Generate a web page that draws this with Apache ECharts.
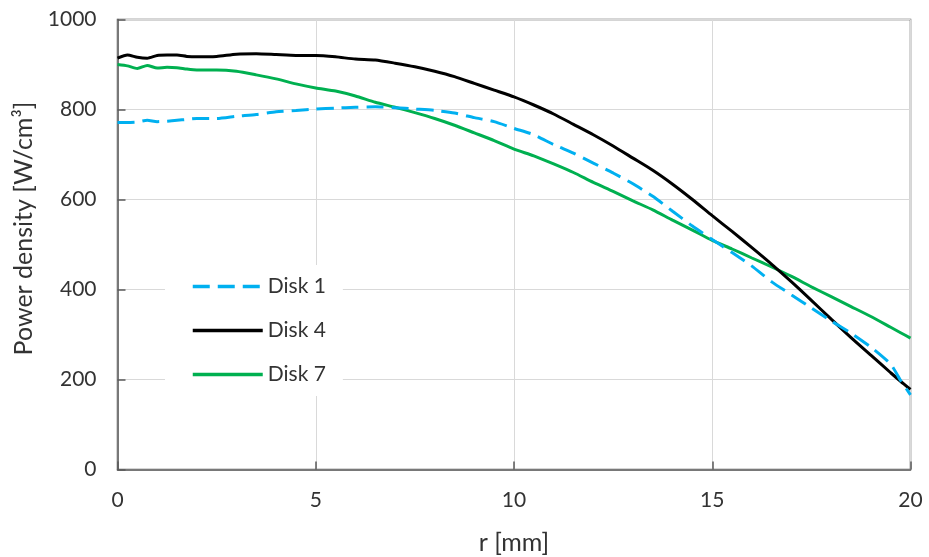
<!DOCTYPE html>
<html>
<head>
<meta charset="utf-8">
<script src="https://cdn.jsdelivr.net/npm/echarts@6/dist/echarts.min.js"></script>
<style>
  html, body { margin: 0; padding: 0; background: #ffffff; }
  #chart { width: 929px; height: 557px; }
</style>
</head>
<body>
<div id="chart"></div>
<script>
// Radial position r [mm]
const radius = [
  0, 0.25, 0.5, 0.75, 1, 1.25, 1.5, 1.75, 2,
  2.5, 3, 3.5, 4, 4.5, 5, 5.5, 6, 6.5, 7, 7.5, 8, 8.5, 9, 9.5,
  10, 10.5, 11, 11.5, 12, 12.5, 13, 13.5, 14, 14.5, 15, 15.5, 16, 16.5,
  17, 17.5, 18, 18.5, 19, 19.5, 19.75, 20
];

// Power density [W/cm³] per disk
const disk1 = [
  771, 771, 772, 776, 773, 774, 776, 778, 780,
  780, 785, 789, 795, 798, 801, 803, 805, 806, 804, 801, 798, 792, 782, 773,
  758, 744, 722, 703, 681, 659, 635, 607, 574, 541, 511, 482, 452, 417,
  388, 359, 330, 303, 272, 234, 198, 166
];
const disk4 = [
  914, 921, 916, 914, 920, 921, 921, 918, 917,
  918, 923, 924, 922, 920, 920, 917, 912, 910, 903, 895, 885, 873, 858, 843,
  828, 810, 790, 767, 744, 719, 692, 665, 634, 600, 564, 529, 493, 456,
  417, 376, 334, 293, 254, 215, 196, 178
];
const disk7 = [
  900, 897, 891, 898, 892, 894, 893, 890, 888,
  888, 885, 877, 868, 857, 848, 841, 830, 816, 805, 793, 780, 765, 748, 731,
  712, 697, 679, 660, 638, 618, 597, 577, 554, 532, 509, 490, 470, 450,
  429, 406, 384, 362, 340, 316, 304, 292
];

const xTicks = { min: 0, max: 20, interval: 5 };
const yTicks = { min: 0, max: 1000, interval: 200 };

const seriesNames = ['Disk 1', 'Disk 4', 'Disk 7'];
const seriesValues = [disk1, disk4, disk7];
const seriesColors = ['#00b0f0', '#000000', '#00b050'];
const seriesDash = [[17, 8], 'solid', 'solid'];

const FONT = 'Lato, "Open Sans", sans-serif';
const TEXT = '#333333';
const FRAME = '#595959';

const chart = echarts.init(document.getElementById('chart'), null, { renderer: 'canvas' });

chart.setOption({
  backgroundColor: '#ffffff',
  animation: false,
  textStyle: { fontFamily: FONT },
  grid: {
    left: 117.5, right: 18.5, top: 19.5, bottom: 87.5,
    outerBoundsMode: 'none',
    containLabel: false,
    show: true, borderColor: FRAME, borderWidth: 1.5, backgroundColor: 'transparent'
  },
  legend: {
    orient: 'vertical',
    left: 165, top: 265,
    padding: [11, 17, 11, 26],
    backgroundColor: '#ffffff',
    itemWidth: 70, itemHeight: 20, itemGap: 23,
    itemStyle: { opacity: 0 },
    lineStyle: { width: 3.5 },
    textStyle: { fontFamily: FONT, fontSize: 21, color: TEXT, lineHeight: 20 },
    data: seriesNames
  },
  xAxis: {
    type: 'value',
    min: xTicks.min, max: xTicks.max, interval: xTicks.interval,
    name: 'r [mm]', nameLocation: 'middle', nameGap: 61,
    nameTextStyle: { fontFamily: FONT, fontSize: 25, color: TEXT },
    axisLine: { show: true, lineStyle: { color: FRAME, width: 1.5 } },
    axisTick: { show: true, inside: true, length: 8, lineStyle: { color: FRAME, width: 1.5 } },
    axisLabel: { fontFamily: FONT, fontSize: 21, color: TEXT, margin: 20 },
    splitLine: { show: true, lineStyle: { color: '#d9d9d9', width: 1 } }
  },
  yAxis: {
    type: 'value',
    min: yTicks.min, max: yTicks.max, interval: yTicks.interval,
    name: 'Power density [W/cm³]', nameLocation: 'middle', nameGap: 73,
    nameTextStyle: { fontFamily: FONT, fontSize: 25, color: TEXT, padding: [0, 0, 0, 32] },
    axisLine: { show: true, lineStyle: { color: FRAME, width: 1.5 } },
    axisTick: { show: true, inside: true, length: 8, lineStyle: { color: FRAME, width: 1.5 } },
    axisLabel: { fontFamily: FONT, fontSize: 21, color: TEXT, margin: 21, formatter: (v) => String(v) },
    splitLine: { show: true, lineStyle: { color: '#d9d9d9', width: 1 } }
  },
  series: seriesNames.map((name, i) => ({
    name: name,
    type: 'line',
    symbol: 'none',
    smooth: 0.2,
    clip: true,
    data: radius.map((r, k) => [r, seriesValues[i][k]]),
    lineStyle: { color: seriesColors[i], width: 3, type: seriesDash[i] },
    itemStyle: { color: seriesColors[i] },
    z: 3 - i
  }))
});
</script>
</body>
</html>
